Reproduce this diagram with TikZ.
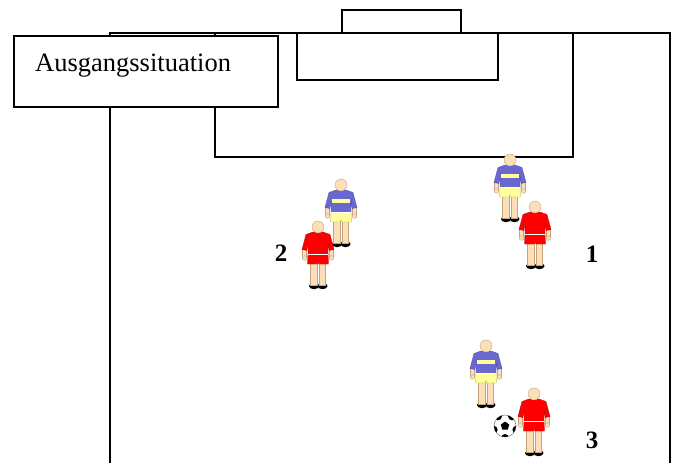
\documentclass[tikz,border=0pt]{standalone}
\usepackage{fontspec}
\setmainfont{Liberation Serif}
\usepackage{tikz}
\usetikzlibrary{positioning}
\definecolor{skin}{RGB}{252,222,184}
\definecolor{skinline}{RGB}{196,164,124}
\definecolor{kitblue}{RGB}{104,104,208}
\definecolor{kityellow}{RGB}{255,255,153}
\definecolor{kitred}{RGB}{255,0,0}
\tikzset{
    fieldline/.style={
        line width=1.6pt,
        black
    },
    % haut, Arme und Beine
    skinpart/.style={
        fill=skin,
        draw=skinline,
        line width=0.4pt
    },
    % Spielerfigur: #1 Trikot, #2 Hose, #3 Streifen
    pics/player/.style n args={3}{code={
        \fill[black] (-4,59) ellipse[x radius=5pt, y radius=3.2pt];
        \fill[black] (4.5,59) ellipse[x radius=5pt, y radius=3.2pt];
        \draw[skinpart] (-7.5,35) rectangle (-0.8,58);
        \draw[skinpart] (0.8,35) rectangle (7.5,58);
        \draw[skinpart] (-15.5,21) rectangle (-11.5,30);
        \draw[skinpart] (11.5,21) rectangle (15.5,30);
        \draw[skinpart] (-13.5,31) circle (2.3pt) (13.5,31) circle (2.3pt);
        \draw[fill=#2, draw=#2!70!black, line width=0.3pt]
            (-10,27) -- (10,27) -- (10.5,37) -- (0.8,37) -- (0,34.5) -- (-0.8,37) -- (-10.5,37) -- cycle;
        \draw[fill=#1, draw=#1!70!black, line width=0.3pt]
            (-5,5) -- (5,5) -- (12,7.5) -- (16,22.5) -- (11.2,23.5) -- (10,16)
            -- (10,27.5) -- (-10,27.5) -- (-10,16) -- (-11.2,23.5) -- (-16,22.5) -- (-12,7.5) -- cycle;
        \fill[fill=#3] (-9,13.5) rectangle (9,17.5);
        \fill[white] (-10,26.6) rectangle (10,28.2);
        \draw[skinpart] (0,0) circle (6pt);
    }}
}
\begin{document}
\begin{tikzpicture}[x=1pt,y=-1pt]
\useasboundingbox (0,0) rectangle (676,463);

% Spielfeld
\draw[fieldline] (110,463) -- (110,33) -- (670,33) -- (670,463);
\draw[fieldline] (215,33) -- (215,157) -- (573,157) -- (573,33);
\draw[fieldline] (297,33) -- (297,80) -- (498,80) -- (498,33);
\draw[fieldline] (342,33) -- (342,10) -- (461,10) -- (461,33);

% Titelkasten
\draw[fieldline,fill=white] (14,36) rectangle (278,107);
\node[anchor=base west, inner sep=0pt, font=\fontsize{26.5}{31}\selectfont] (title) at (35,71.5) {Ausgangssituation};

% Spieler
\pic (blueA) at (341,185) {player={kitblue}{kityellow}{kityellow}};
\pic (redtwo) at (318,227) {player={kitred}{kitred}{none}};
\pic (blueB) at (510,160) {player={kitblue}{kityellow}{kityellow}};
\pic (redone) at (535,207) {player={kitred}{kitred}{none}};
\pic (blueC) at (486,346) {player={kitblue}{kityellow}{kityellow}};
\pic (redthree) at (534,394) {player={kitred}{kitred}{none}};

% Ball
\coordinate (ball) at (505,426);
\begin{scope}[shift={(ball)}]
    \draw[fill=white, draw=gray, line width=0.6pt] (0,0) circle (11pt);
    \clip (0,0) circle (11pt);
    \fill[black] (90:4.5pt) -- (162:4.5pt) -- (234:4.5pt) -- (306:4.5pt) -- (18:4.5pt) -- cycle;
    \foreach \a in {-90,-18,54,126,198}
        \fill[black] (\a:12pt) circle (4pt);
\end{scope}

% Nummern
\node[font=\fontsize{25}{29}\selectfont\bfseries] (numtwo) at (281,253) {2};
\node[font=\fontsize{25}{29}\selectfont\bfseries] (numone) at (592,254) {1};
\node[font=\fontsize{25}{29}\selectfont\bfseries] (numthree) at (592,440) {3};
\end{tikzpicture}
\end{document}
